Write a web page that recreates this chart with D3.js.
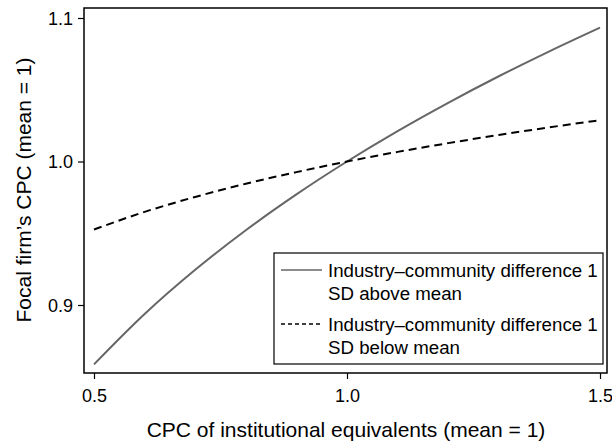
<!DOCTYPE html>
<html>
<head>
<meta charset="utf-8">
<script src="https://cdn.jsdelivr.net/npm/d3@7"></script>
<style>
  html, body { margin: 0; padding: 0; background: #fff; }
  svg { display: block; font-family: "Liberation Sans", Arial, Helvetica, sans-serif; }
</style>
</head>
<body>
<svg id="chart" width="612" height="442"></svg>
<script>
// CPC of institutional equivalents (x) and predicted focal firm CPC (y)
const xValues = [0.5, 0.6, 0.7, 0.8, 0.9, 1.0, 1.1, 1.2, 1.3, 1.4, 1.5];
const aboveMean = [0.8586, 0.8937, 0.9245, 0.9521, 0.9771, 1.0000, 1.0212, 1.0409, 1.0594, 1.0768, 1.0933];
const belowMean = [0.9526, 0.9649, 0.9753, 0.9845, 0.9926, 1.0000, 1.0067, 1.0128, 1.0185, 1.0238, 1.0288];
const xTicks = [0.5, 1.0, 1.5];
const yTicks = [0.9, 1.0, 1.1];
const seriesNames = [
  ["Industry\u2013community difference 1", "SD above mean"],
  ["Industry\u2013community difference 1", "SD below mean"]
];

const svg = d3.select("#chart");
const frame = { left: 84, right: 607, top: 8, bottom: 373 };

const x = d3.scaleLinear().domain([0.5, 1.5]).range([94, 600]);
const y = d3.scaleLinear().domain([0.9, 1.1]).range([305, 18]);

// plot frame
svg.append("rect")
  .attr("x", frame.left).attr("y", frame.top)
  .attr("width", frame.right - frame.left).attr("height", frame.bottom - frame.top)
  .attr("fill", "none").attr("stroke", "#000").attr("stroke-width", 1.5);

// axes
const xAxis = d3.axisBottom(x).tickValues(xTicks).tickFormat(d3.format(".1f")).tickSize(6).tickPadding(10);
const yAxis = d3.axisLeft(y).tickValues(yTicks).tickFormat(d3.format(".1f")).tickSize(6).tickPadding(5);

const gx = svg.append("g").attr("transform", `translate(0,${frame.bottom})`).call(xAxis);
const gy = svg.append("g").attr("transform", `translate(${frame.left},0)`).call(yAxis);
[gx, gy].forEach(g => {
  g.select(".domain").remove();
  g.selectAll(".tick line").attr("stroke", "#000").attr("stroke-width", 1.2);
  g.selectAll(".tick text").attr("fill", "#000").attr("font-size", 18)
    .attr("font-family", "'Liberation Sans', Arial, sans-serif");
});
gy.selectAll(".tick text").attr("dy", "0.36em");

// axis titles
svg.append("text")
  .attr("x", 346).attr("y", 437)
  .attr("text-anchor", "middle").attr("font-size", 21).attr("fill", "#000")
  .text("CPC of institutional equivalents (mean = 1)");
svg.append("text")
  .attr("transform", "translate(31,190) rotate(-90)")
  .attr("text-anchor", "middle").attr("font-size", 21).attr("fill", "#000")
  .text("Focal firm\u2019s CPC (mean = 1)");

// curves
const line = d3.line().x(d => x(d[0])).y(d => y(d[1])).curve(d3.curveMonotoneX);
svg.append("path")
  .datum(xValues.map((v, i) => [v, aboveMean[i]]))
  .attr("d", line).attr("fill", "none").attr("stroke", "#666").attr("stroke-width", 2);
svg.append("path")
  .datum(xValues.map((v, i) => [v, belowMean[i]]))
  .attr("d", line).attr("fill", "none").attr("stroke", "#000").attr("stroke-width", 2)
  .attr("stroke-dasharray", "8,5");

// legend
const lg = svg.append("g");
lg.append("rect")
  .attr("x", 274).attr("y", 253).attr("width", 329).attr("height", 111)
  .attr("fill", "#fff").attr("stroke", "#000").attr("stroke-width", 1.2);
const styles = [
  { stroke: "#666", dash: null },
  { stroke: "#000", dash: "4,3" }
];
seriesNames.forEach((lines, i) => {
  const top = 270 + i * 54;
  lg.append("line")
    .attr("x1", 281).attr("x2", 322).attr("y1", top).attr("y2", top)
    .attr("stroke", styles[i].stroke).attr("stroke-width", 1.5)
    .attr("stroke-dasharray", styles[i].dash);
  lines.forEach((t, j) => {
    lg.append("text")
      .attr("x", 328).attr("y", top + 7 + j * 23)
      .attr("font-size", 18.7).attr("fill", "#000")
      .text(t);
  });
});
</script>
</body>
</html>
